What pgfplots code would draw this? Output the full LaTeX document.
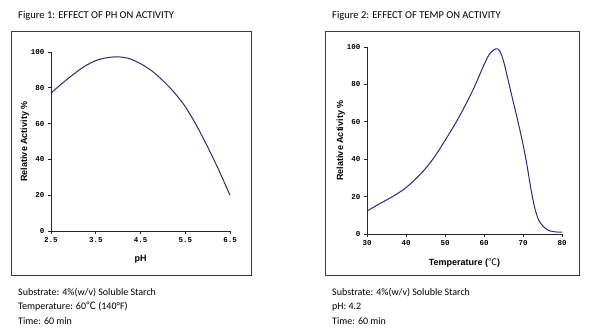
\documentclass[border=0pt]{standalone}
\usepackage{pgfplots}
\pgfplotsset{compat=1.18}
\usepackage{fontspec}
\setmainfont{Carlito}
\newfontfamily\axfont{Liberation Sans}
\newfontfamily\tickfont{Liberation Mono}
\newfontfamily\cjk{Noto Sans CJK SC}
\definecolor{curve}{RGB}{45,40,125}
\definecolor{frame}{RGB}{60,60,60}
\pgfplotstableread{
x y
2.5 77
2.75 82.5
3.0 87.5
3.25 92
3.5 95.2
3.75 96.8
4.0 97.3
4.25 96.3
4.5 93.5
4.75 89.5
5.0 84
5.25 77.5
5.5 69.5
5.75 59
6.0 47
6.25 34
6.5 20
}\phdata
\pgfplotstableread{
x y
30 12.3
32.5 15.3
35 18.2
37.5 21.2
40 24.8
42.5 29.5
45 35
47.5 41.8
50 50
52.5 58.5
55 68
57.5 78.5
60 90.5
61.5 96.5
63 99
64 98
65 92.5
66 84
67 75
68.5 62
70 48
71 37
72 24.5
73 14
74 7.5
75 4.5
76 2.6
77 1.6
78 1.2
79 1.0
80 1.0
}\tempdata
\begin{document}
\begin{tikzpicture}[x=1pt,y=1pt]
\path[fill=white] (0,0) rectangle (596,336);
% frames
\draw[frame, line width=1pt] (11,60) rectangle (251,304);
\draw[frame, line width=1pt] (325,60) rectangle (579,304);
% titles
\node[anchor=base west, font=\fontsize{10.5}{12}\selectfont, inner sep=0] at (18,317) {Figure 1: EFFECT OF PH ON ACTIVITY};
\node[anchor=base west, font=\fontsize{10.5}{12}\selectfont, inner sep=0] at (332,317) {Figure 2: EFFECT OF TEMP ON ACTIVITY};
% notes
\node[anchor=base west, font=\fontsize{10}{11}\selectfont, inner sep=0] at (18,40) {Substrate: 4\%(w/v) Soluble Starch};
\node[anchor=base west, font=\fontsize{10}{11}\selectfont, inner sep=0] at (18,26) {Temperature: 60{\cjk ℃} (140°F)};
\node[anchor=base west, font=\fontsize{10}{11}\selectfont, inner sep=0] at (18,11) {Time: 60 min};
\node[anchor=base west, font=\fontsize{10}{11}\selectfont, inner sep=0] at (332,40) {Substrate: 4\%(w/v) Soluble Starch};
\node[anchor=base west, font=\fontsize{10}{11}\selectfont, inner sep=0] at (332,26) {pH: 4.2};
\node[anchor=base west, font=\fontsize{10}{11}\selectfont, inner sep=0] at (332,11) {Time: 60 min};
\pgfplotsset{
  mystyle/.style={
    scale only axis,
    axis lines=left,
    axis line style={-, line width=0.9pt, black!85},
    tick align=outside,
    major tick length=3pt,
    tick style={black!85, line width=0.7pt},
    ymin=0, ymax=100,
    ytick={0,20,40,60,80,100},
    /pgf/number format/assume math mode=true,
    ticklabel style={font=\tickfont\bfseries\fontsize{7.5}{8}\selectfont},
    label style={font=\axfont\bfseries\fontsize{9}{10}\selectfont},
    ylabel={Relative Activity \%},
    ylabel style={yshift=-5pt},
    xlabel style={yshift=-6pt},
    clip=false,
  }
}
\begin{axis}[mystyle,
  at={(51pt,105pt)}, anchor=south west,
  width=179pt, height=179pt,
  xmin=2.5, xmax=6.5,
  xtick={2.5,3.5,4.5,5.5,6.5},
  xticklabels={2.5,3.5,4.5,5.5,6.5},
  xlabel={pH},
]
\addplot[curve, line width=1pt, smooth, tension=0.5] table[x=x,y=y] {\phdata};
\end{axis}
\begin{axis}[mystyle,
  at={(367pt,102pt)}, anchor=south west,
  width=195pt, height=187pt,
  xmin=30, xmax=80,
  xtick={30,40,50,60,70,80},
  xlabel={Temperature ({\cjk\mdseries ℃})},
]
\addplot[curve, line width=1pt, smooth, tension=0.5] table[x=x,y=y] {\tempdata};
\end{axis}
\end{tikzpicture}
\end{document}
